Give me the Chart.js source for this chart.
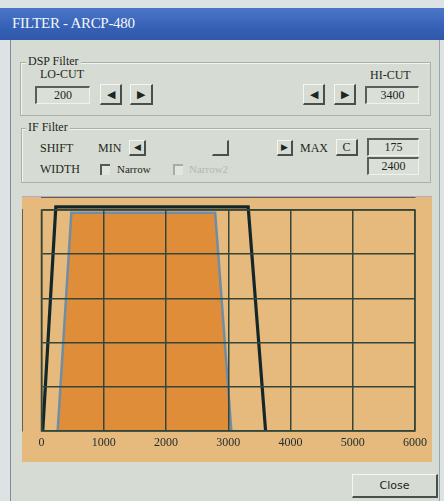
<!DOCTYPE html>
<html>
<head>
<meta charset="utf-8">
<script src="https://cdn.jsdelivr.net/npm/chart.js@4/dist/chart.umd.min.js"></script>
<style>
  html, body { margin: 0; padding: 0; }
  body { width: 444px; height: 501px; overflow: hidden; background: #dde3e4; position: relative;
         font-family: "Liberation Serif", serif; color: #1e2622; }
  .abs { position: absolute; }
  #titlebar { left: 0; top: 8px; width: 444px; height: 32px;
              background: linear-gradient(#4c76c8, #3561b6 60%, #2f58a8); }
  #title { left: 12px; top: 15px; color: #f4f6fb; font-size: 15px; letter-spacing: -0.3px; }
  #body { left: 10px; top: 40px; width: 428px; height: 461px; background: #d6dcd3;
          border-left: 1px solid #7b8ea0; border-right: 1px solid #9aa6a6; }
  .group { border: 1px solid #a9b0a6; box-shadow: inset 1px 1px 0 #f2f4ee; }
  .glabel { background: #d6dcd3; font-size: 12px; padding: 0 2px; line-height: 13px; }
  .lbl { font-size: 12px; line-height: 14px; }
  .btn { border-right: 2px solid #4b4f4a; border-bottom: 2px solid #4b4f4a;
         border-top: 1px solid #f4f6f2; border-left: 1px solid #f4f6f2; box-sizing: border-box;
         font-size: 11px; text-align: center; }
  .box { border-top: 2px solid #5a5e58; border-left: 2px solid #5a5e58;
         border-bottom: 1px solid #f0f2ee; border-right: 1px solid #f0f2ee; box-sizing: border-box;
         font-size: 12px; text-align: center; background: #dadfd8; }
  .chk { width: 10px; height: 11px; border-top: 2px solid #555a55; border-left: 2px solid #555a55;
         box-sizing: border-box; background: #e2e6e0; }
  #panel { left: 22px; top: 196px; width: 410px; height: 265px; background: #e6b97d;
           border-top: 1px solid #b8a6c8; }
</style>
</head>
<body>
<div id="titlebar" class="abs"></div>
<div id="title" class="abs">FILTER - ARCP-480</div>
<div id="body" class="abs"></div>

<!-- DSP Filter -->
<div class="abs group" style="left:20px;top:62px;width:409px;height:52px;"></div>
<div class="abs glabel" style="left:26px;top:55px;">DSP Filter</div>
<div class="abs lbl" style="left:40px;top:67px;">LO-CUT</div>
<div class="abs box" style="left:35px;top:86px;width:55px;height:18px;line-height:15px;">200</div>
<div class="abs btn" style="left:100px;top:84px;width:22px;height:21px;line-height:18px;">◀</div>
<div class="abs btn" style="left:130px;top:84px;width:23px;height:21px;line-height:18px;">▶</div>
<div class="abs lbl" style="left:370px;top:68px;">HI-CUT</div>
<div class="abs btn" style="left:303px;top:84px;width:22px;height:21px;line-height:18px;">◀</div>
<div class="abs btn" style="left:334px;top:84px;width:22px;height:21px;line-height:18px;">▶</div>
<div class="abs box" style="left:365px;top:86px;width:54px;height:18px;line-height:15px;">3400</div>

<!-- IF Filter -->
<div class="abs group" style="left:21px;top:128px;width:408px;height:53px;"></div>
<div class="abs glabel" style="left:26px;top:121px;">IF Filter</div>
<div class="abs lbl" style="left:40px;top:141px;">SHIFT</div>
<div class="abs lbl" style="left:98px;top:141px;">MIN</div>
<div class="abs btn" style="left:129px;top:140px;width:17px;height:16px;line-height:13px;font-size:9px;">◀</div>
<div class="abs btn" style="left:212px;top:140px;width:17px;height:16px;border-top-color:#d6dcd3;border-left-color:#d6dcd3;"></div>
<div class="abs btn" style="left:277px;top:140px;width:16px;height:16px;line-height:13px;font-size:9px;">▶</div>
<div class="abs lbl" style="left:300px;top:141px;">MAX</div>
<div class="abs btn" style="left:336px;top:139px;width:22px;height:17px;line-height:14px;font-size:12px;">C</div>
<div class="abs box" style="left:367px;top:138px;width:52px;height:18px;line-height:15px;">175</div>
<div class="abs lbl" style="left:40px;top:162px;">WIDTH</div>
<div class="abs chk" style="left:100px;top:164px;"></div>
<div class="abs lbl" style="left:117px;top:162px;font-size:11px;">Narrow</div>
<div class="abs chk" style="left:173px;top:164px;border-color:#a8aca6;"></div>
<div class="abs lbl" style="left:189px;top:162px;font-size:11px;color:#b4b9b2;">Narrow2</div>
<div class="abs box" style="left:367px;top:157px;width:52px;height:18px;line-height:15px;">2400</div>

<!-- chart panel -->
<div id="panel" class="abs"><canvas id="filterChart" width="410" height="265"></canvas></div>

<div class="abs btn" style="left:352px;top:474px;width:86px;height:24px;line-height:21px;font-family:'DejaVu Sans',sans-serif;font-size:11px;">Close</div>

<script>
// ── Data ─────────────────────────────────────────────────────────
const xTicks = [0, 1000, 2000, 3000, 4000, 5000, 6000];
const dspFreq = [20, 230, 3320, 3600];     // DSP passband corners (Hz)
const dspLevel = [0, 5.07, 5.07, 0];
const ifFreq = [260, 480, 2790, 3050];     // IF passband corners (Hz)
const ifLevel = [0, 4.94, 4.94, 0];

const toPoints = (xs, ys) => xs.map((x, i) => ({ x, y: ys[i] }));

const ctx = document.getElementById('filterChart');
new Chart(ctx, {
  type: 'line',
  data: {
    datasets: [
      {
        data: toPoints(dspFreq, dspLevel),
        borderColor: '#13272a',
        borderWidth: 3.2,
        pointRadius: 0,
        fill: false,
        clip: false,
        order: 0,
      },
      {
        data: toPoints(ifFreq, ifLevel),
        borderColor: '#6d8ea6',
        borderWidth: 2.5,
        backgroundColor: '#e08d3a',
        pointRadius: 0,
        fill: 'origin',
        order: 1,
      },
    ],
  },
  options: {
    responsive: false,
    animation: false,
    layout: { padding: { left: 19.5, right: 0, top: 13, bottom: 0 } },
    plugins: { legend: { display: false }, tooltip: { enabled: false } },
    scales: {
      x: {
        type: 'linear',
        min: 0,
        max: 6000,
        afterBuildTicks: s => { s.ticks = xTicks.map(v => ({ value: v })); },
        afterFit: s => { s.height = 31; },
        grid: { color: '#34463a', lineWidth: 1.5, drawTicks: false, z: 1 },
        border: { color: '#34463a', width: 1.5 },
        ticks: { color: '#1c2c2e', padding: 5, maxRotation: 0,
                 callback: v => String(v),
                 font: { family: 'Liberation Serif', size: 12 } },
      },
      y: {
        min: 0,
        max: 5,
        afterFit: s => { s.width = 0; },
        grid: { color: '#34463a', lineWidth: 1.5, drawTicks: false, z: 1 },
        border: { color: '#34463a', width: 1.5 },
        ticks: { display: false, stepSize: 1 },
      },
    },
  },
  plugins: [{
    id: 'rightEdge',
    afterDatasetsDraw(chart) {
      const { ctx, chartArea: a } = chart;
      ctx.save();
      ctx.strokeStyle = '#34463a';
      ctx.lineWidth = 1.5;
      ctx.strokeRect(a.left, a.top, a.right - a.left, a.bottom - a.top);
      ctx.restore();
    },
  }],
});
</script>
</body>
</html>
